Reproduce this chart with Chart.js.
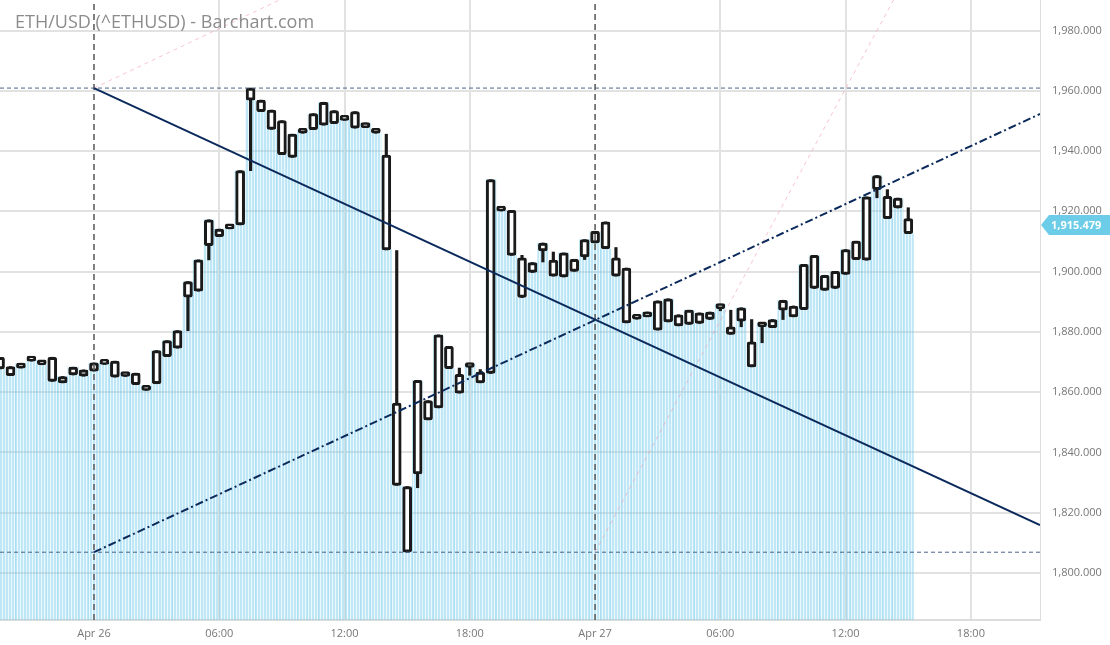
<!DOCTYPE html>
<html>
<head>
<meta charset="utf-8">
<script src="https://cdn.jsdelivr.net/npm/chart.js@4.4.1/dist/chart.umd.min.js"></script>
<style>
  body { margin: 0; background: #fff; }
  #wrap { position: relative; width: 1110px; height: 645px; }
  #title {
    position: absolute; left: 15px; top: 9px;
    font: 18px 'Open Sans', sans-serif; color: #8c8c8c;
  }
</style>
</head>
<body>
<div id="wrap">
  <canvas id="chart" width="1110" height="645"></canvas>
  <div id="title">ETH/USD (^ETHUSD) - Barchart.com</div>
</div>
<script>
// 30 minute candles, time in hours from Apr 26 00:00
const firstHour = -4.5;
const stepHours = 0.5;
const dayLabels = ['Apr 26', 'Apr 27'];

const opens = [
  1871.6, 1868.5, 1868.0, 1870.3, 1869.5, 1871.6, 1863.1, 1865.7, 1867.4, 1867.0,
  1869.2, 1870.3, 1865.2, 1866.3, 1860.6, 1862.8, 1871.8, 1874.6, 1891.5, 1893.5,
  1908.6, 1911.6, 1914.2, 1915.5, 1960.9, 1956.9, 1953.6, 1950.1, 1937.9, 1945.9,
  1947.1, 1948.6, 1953.4, 1950.2, 1953.1, 1947.8, 1947.5, 1938.7, 1856.4, 1806.9,
  1832.9, 1857.2, 1854.8, 1875.2, 1865.9, 1868.2, 1866.7, 1866.2, 1920.1, 1920.3,
  1904.6, 1899.7, 1906.9, 1903.8, 1898.2, 1904.1, 1904.9, 1909.5, 1916.5, 1904.6,
  1901.2, 1884.6, 1885.0, 1890.3, 1883.3, 1885.7, 1882.5, 1886.3, 1884.1, 1887.7,
  1881.7, 1883.6, 1876.7, 1881.7, 1881.4, 1887.2, 1888.6, 1887.4, 1894.4, 1898.8,
  1894.4, 1899.1, 1904.0, 1903.8, 1927.2, 1925.0, 1921.1, 1917.6
];
const highs = [
  1871.6, 1868.5, 1869.6, 1870.7, 1869.5, 1871.6, 1865.2, 1868.3, 1867.4, 1869.7,
  1869.6, 1870.3, 1866.4, 1866.3, 1861.9, 1873.8, 1877.1, 1880.4, 1896.7, 1903.9,
  1917.2, 1914.1, 1914.6, 1933.5, 1960.9, 1956.9, 1953.6, 1950.1, 1945.6, 1947.0,
  1952.4, 1956.2, 1953.4, 1950.6, 1953.1, 1949.3, 1947.5, 1945.6, 1907.0, 1828.7,
  1863.9, 1857.2, 1879.0, 1875.2, 1868.0, 1869.3, 1867.5, 1930.5, 1920.5, 1920.3,
  1905.4, 1903.0, 1909.5, 1906.5, 1906.2, 1904.1, 1910.6, 1913.4, 1916.5, 1908.0,
  1901.2, 1884.6, 1886.6, 1890.3, 1891.0, 1885.7, 1887.2, 1886.3, 1886.6, 1889.2,
  1887.2, 1888.0, 1884.1, 1882.8, 1884.1, 1890.5, 1888.6, 1902.4, 1905.4, 1898.8,
  1900.1, 1907.3, 1910.1, 1924.8, 1931.9, 1927.2, 1924.4, 1921.2
];
const lows = [
  1867.7, 1865.5, 1868.0, 1870.3, 1869.1, 1863.6, 1863.1, 1865.7, 1865.3, 1867.0,
  1869.2, 1865.0, 1865.2, 1862.5, 1860.6, 1862.8, 1871.8, 1874.6, 1880.4, 1893.5,
  1903.9, 1911.6, 1914.2, 1915.5, 1933.5, 1953.1, 1947.2, 1938.8, 1937.9, 1945.9,
  1947.1, 1948.6, 1949.1, 1950.2, 1947.6, 1947.8, 1945.9, 1907.2, 1829.1, 1806.9,
  1828.3, 1850.8, 1854.8, 1867.8, 1859.7, 1865.6, 1863.1, 1866.2, 1920.1, 1905.4,
  1891.4, 1899.7, 1903.2, 1898.5, 1898.2, 1900.1, 1904.0, 1909.5, 1907.6, 1898.5,
  1883.0, 1884.2, 1885.0, 1880.6, 1883.3, 1882.0, 1882.5, 1882.8, 1884.1, 1887.0,
  1879.2, 1881.7, 1868.4, 1876.4, 1881.4, 1884.1, 1885.0, 1887.4, 1894.4, 1893.8,
  1894.4, 1899.1, 1904.0, 1903.8, 1924.5, 1917.6, 1921.1, 1912.6
];
const closes = [
  1867.7, 1865.5, 1869.6, 1870.7, 1869.1, 1863.6, 1865.2, 1868.3, 1865.3, 1869.7,
  1869.6, 1865.0, 1866.4, 1862.5, 1861.9, 1873.8, 1877.1, 1880.4, 1896.7, 1903.9,
  1917.2, 1914.1, 1914.6, 1933.5, 1956.9, 1953.1, 1947.2, 1938.8, 1945.6, 1947.0,
  1952.4, 1956.2, 1949.1, 1950.6, 1947.6, 1949.3, 1945.9, 1907.2, 1829.1, 1828.7,
  1863.9, 1850.8, 1879.0, 1867.8, 1859.7, 1869.3, 1863.1, 1930.5, 1920.5, 1905.4,
  1891.4, 1903.0, 1909.5, 1898.5, 1906.2, 1900.1, 1910.6, 1913.4, 1907.6, 1898.5,
  1883.0, 1884.2, 1886.6, 1880.6, 1891.0, 1882.0, 1887.2, 1882.8, 1886.6, 1889.2,
  1879.2, 1888.0, 1868.4, 1882.8, 1884.1, 1890.5, 1885.0, 1902.4, 1905.4, 1893.8,
  1900.1, 1907.3, 1910.1, 1924.8, 1931.9, 1917.6, 1924.4, 1912.6
];
const lastPrice = 1915.479;

// drawing tools
const highLevel = 1960.9;
const lowLevel = 1806.9;
const downTrend = [[0, 1960.9], [45.31, 1815.9]];
const upTrend = [[0, 1806.9], [45.31, 1952.3]];
const fanLines = [[[0, 1960.9], [12, 2000.4]], [[24, 1806.9], [40, 2012.0]]];

const xMin = -4.502, xMax = 45.31;
const yMin = 1784.41, yMax = 1990.12;

const times = opens.map((_, i) => firstHour + i * stepHours);

const canvas = document.getElementById('chart');
const ctx = canvas.getContext('2d');

// striped fill like the barchart area
const pc = document.createElement('canvas');
pc.width = 3; pc.height = 1;
const pctx = pc.getContext('2d');
pctx.fillStyle = 'rgba(120,205,235,0.47)';
pctx.fillRect(0, 0, 2, 1);
pctx.fillStyle = 'rgba(120,205,235,0.14)';
pctx.fillRect(2, 0, 1, 1);
const stripes = ctx.createPattern(pc, 'repeat');

const seg = (pts) => pts.map(p => ({x: p[0], y: p[1]}));
const line = (data, color, width, dash, order) => ({
  type: 'line', data: data, borderColor: color, borderWidth: width,
  borderDash: dash, pointRadius: 0, fill: false, tension: 0, order: order
});

const priceTag = {
  id: 'priceTag',
  afterDraw(chart) {
    const c = chart.ctx;
    const y = chart.scales.y.getPixelForValue(lastPrice);
    const x = chart.chartArea.right + 1;
    c.save();
    c.fillStyle = '#6dcde9';
    c.beginPath();
    c.moveTo(x, y);
    c.lineTo(x + 8, y - 10);
    c.lineTo(chart.width, y - 10);
    c.lineTo(chart.width, y + 10);
    c.lineTo(x + 8, y + 10);
    c.closePath();
    c.fill();
    c.fillStyle = '#fff';
    c.font = 'bold 11px "Open Sans"';
    c.textBaseline = 'middle';
    c.fillText(lastPrice.toLocaleString('en-US', {minimumFractionDigits: 3}), x + 10, y + 1);
    c.restore();
  }
};

new Chart(ctx, {
  type: 'bar',
  data: {
    datasets: [
      line(seg(fanLines[0]), 'rgba(240,150,170,0.55)', 1, [4, 4], 1),
      line(seg(fanLines[1]), 'rgba(240,150,170,0.55)', 1, [4, 4], 1),
      line(seg([[xMin, highLevel], [xMax, highLevel]]), '#4a6488', 1, [4, 3], 1),
      line(seg([[xMin, lowLevel], [xMax, lowLevel]]), '#4a6488', 1, [4, 3], 1),
      line(seg([[0, yMin], [0, yMax]]), '#606060', 1.6, [6, 4], 1),
      line(seg([[24, yMin], [24, yMax]]), '#606060', 1.6, [6, 4], 1),
      line(seg(downTrend), '#0b2a5b', 2, [], 0),
      line(seg(upTrend), '#0b2a5b', 2, [8, 3, 2, 3], 0),
      {
        data: times.map((t, i) => ({x: t, y: [Math.min(opens[i], closes[i]), Math.max(opens[i], closes[i])]})),
        backgroundColor: '#fff', borderColor: '#1a1a1a', borderWidth: 3,
        borderRadius: 2, borderSkipped: false, barThickness: 9, minBarLength: 5,
        grouped: false, order: 2
      },
      {
        data: times.map((t, i) => ({x: t, y: [lows[i], highs[i]]})),
        backgroundColor: '#1a1a1a', borderWidth: 0, barThickness: 2.5,
        grouped: false, order: 3
      },
      {
        data: times.map((t, i) => ({x: t, y: closes[i]})),
        backgroundColor: stripes, borderWidth: 0,
        barPercentage: 1, categoryPercentage: 1,
        grouped: false, order: 5
      }
    ]
  },
  options: {
    responsive: false,
    animation: false,
    events: [],
    layout: {padding: 0},
    plugins: {legend: {display: false}, tooltip: {enabled: false}},
    scales: {
      x: {
        type: 'linear', min: xMin, max: xMax, offset: false,
        grid: {
          offset: false, drawTicks: false, lineWidth: 2,
          color: (c) => (c.tick && c.tick.value % 24 === 0) ? 'rgba(0,0,0,0)' : '#e2e2e2'
        },
        border: {color: '#dcdcdc', width: 2},
        ticks: {
          stepSize: 6, includeBounds: false, padding: 7, color: '#777',
          font: {family: 'Open Sans', size: 11}, maxRotation: 0, autoSkip: false,
          callback: (v) => v % 24 === 0 ? dayLabels[v / 24] : String(v % 24).padStart(2, '0') + ':00'
        },
        afterFit: (s) => { s.height = 25; s.paddingLeft = 0; s.paddingRight = 0; }
      },
      y: {
        position: 'right', min: yMin, max: yMax, beginAtZero: false,
        grid: {drawTicks: false, lineWidth: 2, color: '#e2e2e2'},
        border: {color: '#dcdcdc', width: 1},
        ticks: {
          stepSize: 20, includeBounds: false, padding: 12, color: '#777',
          font: {family: 'Open Sans', size: 11},
          callback: (v) => v.toLocaleString('en-US', {minimumFractionDigits: 3, maximumFractionDigits: 3})
        },
        afterFit: (s) => { s.width = 70; s.paddingTop = 0; s.paddingBottom = 0; }
      }
    }
  },
  plugins: [priceTag]
});
</script>
</body>
</html>
